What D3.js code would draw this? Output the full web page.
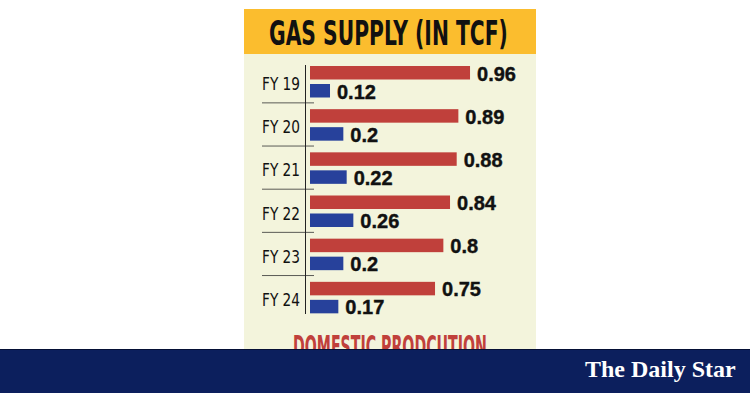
<!DOCTYPE html>
<html>
<head>
<meta charset="utf-8">
<script src="https://cdn.jsdelivr.net/npm/d3@7"></script>
<style>
    html, body { margin: 0; padding: 0; background: #ffffff; }
    svg { display: block; }
</style>
</head>
<body>
<svg id="gas-chart" width="750" height="393"></svg>
<script>
/**
 * Fiscal years shown on the vertical axis
 */
const fiscalYears = ['FY 19', 'FY 20', 'FY 21', 'FY 22', 'FY 23', 'FY 24'];

/**
 * Domestic production (red bars), in TCF
 */
const domestic = [0.96, 0.89, 0.88, 0.84, 0.8, 0.75];

/**
 * Second series (blue bars), in TCF
 */
const imported = [0.12, 0.2, 0.22, 0.26, 0.2, 0.17];

const title = 'GAS SUPPLY (IN TCF)';
const legendText = 'DOMESTIC PRODCUTION';
const brand = 'The Daily Star';

const Colors = {
    panel: '#f3f4dc',
    header: '#fbbd2e',
    red: '#c0403b',
    blue: '#27419b',
    navy: '#0c1f5d',
    ink: '#111111'
};

const condensed = '"Liberation Sans Narrow", "DejaVu Sans Condensed", "DejaVu Sans", sans-serif';

/**
 * Appends a text squeezed horizontally to the given width
 */
function squeezedText(tag, str, x, y, width, size, fill) {
    const g = tag.append('g');
    const t = g.append('text')
        .attr('font-family', condensed)
        .attr('font-weight', 'bold')
        .attr('font-size', size)
        .attr('fill', fill)
        .text(str);
    const natural = t.node().getComputedTextLength();
    g.attr('transform', `translate(${x}, ${y}) scale(${width / natural}, 1)`);
    return g;
}

function drawChart(tag) {
    tag.selectAll('*').remove();

    // Panel and header
    tag.append('rect')
        .attr('x', 244).attr('y', 9)
        .attr('width', 292).attr('height', 345)
        .attr('fill', Colors.panel);
    tag.append('rect')
        .attr('x', 244).attr('y', 9)
        .attr('width', 292).attr('height', 45)
        .attr('fill', Colors.header);
    squeezedText(tag, title, 269, 45, 239, 34, Colors.ink);

    // Scales
    const xScale = d3.scaleLinear().domain([0, 1]).range([310, 310 + 166.7]);
    const yScale = d3.scaleBand().domain(fiscalYears).range([62, 321]);
    const barH = 13.5;

    const rows = fiscalYears.map((fy, i) => ({ fy, dom: domestic[i], imp: imported[i] }));

    const chart = tag.append('g');

    // Row separators
    chart.selectAll('.sep')
        .data(fiscalYears.slice(1))
        .join('line')
        .attr('x1', 262).attr('x2', 314)
        .attr('y1', (d) => yScale(d) - 2.3)
        .attr('y2', (d) => yScale(d) - 2.3)
        .attr('stroke', '#333333')
        .attr('stroke-width', 0.8);

    // Axis line
    chart.append('line')
        .attr('x1', 305.5).attr('x2', 305.5)
        .attr('y1', 65).attr('y2', 314)
        .attr('stroke', '#222222')
        .attr('stroke-width', 1);

    // Category labels
    chart.selectAll('.cat')
        .data(rows)
        .join('text')
        .attr('x', 262)
        .attr('y', (d) => yScale(d.fy) + yScale.bandwidth() / 2 + 6.5)
        .attr('font-family', condensed)
        .attr('font-size', 18.5)
        .attr('textLength', 38)
        .attr('lengthAdjust', 'spacingAndGlyphs')
        .attr('fill', Colors.ink)
        .text((d) => d.fy);

    // Red bars
    chart.selectAll('.red')
        .data(rows)
        .join('rect')
        .attr('x', xScale(0))
        .attr('y', (d) => yScale(d.fy) + 4)
        .attr('width', (d) => xScale(d.dom) - xScale(0))
        .attr('height', barH)
        .attr('fill', Colors.red);

    // Blue bars
    chart.selectAll('.blue')
        .data(rows)
        .join('rect')
        .attr('x', xScale(0))
        .attr('y', (d) => yScale(d.fy) + 22)
        .attr('width', (d) => xScale(d.imp) - xScale(0))
        .attr('height', barH)
        .attr('fill', Colors.blue);

    // Value labels
    const label = (sel, key, off) => sel
        .attr('x', (d) => xScale(d[key]) + 7)
        .attr('y', (d) => yScale(d.fy) + off)
        .attr('font-family', '"Liberation Sans", Arial, sans-serif')
        .attr('font-weight', 'bold')
        .attr('font-size', 20)
        .attr('stroke', Colors.ink)
        .attr('stroke-width', 0.4)
        .attr('fill', Colors.ink)
        .text((d) => d[key]);
    chart.selectAll('.vdom').data(rows).join('text').call(label, 'dom', 18.5);
    chart.selectAll('.vimp').data(rows).join('text').call(label, 'imp', 36.5);

    // Legend text, partly hidden below the brand band
    squeezedText(tag, legendText, 293, 357, 194, 30, Colors.red);

    // Brand band
    tag.append('rect')
        .attr('x', 0).attr('y', 349)
        .attr('width', 750).attr('height', 44)
        .attr('fill', Colors.navy);
    tag.append('line')
        .attr('x1', 0).attr('x2', 750)
        .attr('y1', 349.5).attr('y2', 349.5)
        .attr('stroke', '#050f35');
    tag.append('text')
        .attr('x', 585).attr('y', 377)
        .attr('font-family', '"Liberation Serif", "DejaVu Serif", serif')
        .attr('font-weight', 'bold')
        .attr('font-size', 24)
        .attr('fill', '#ffffff')
        .text(brand);
}

window.addEventListener('DOMContentLoaded', () => {
    drawChart(d3.select('#gas-chart'));
});
</script>
</body>
</html>
